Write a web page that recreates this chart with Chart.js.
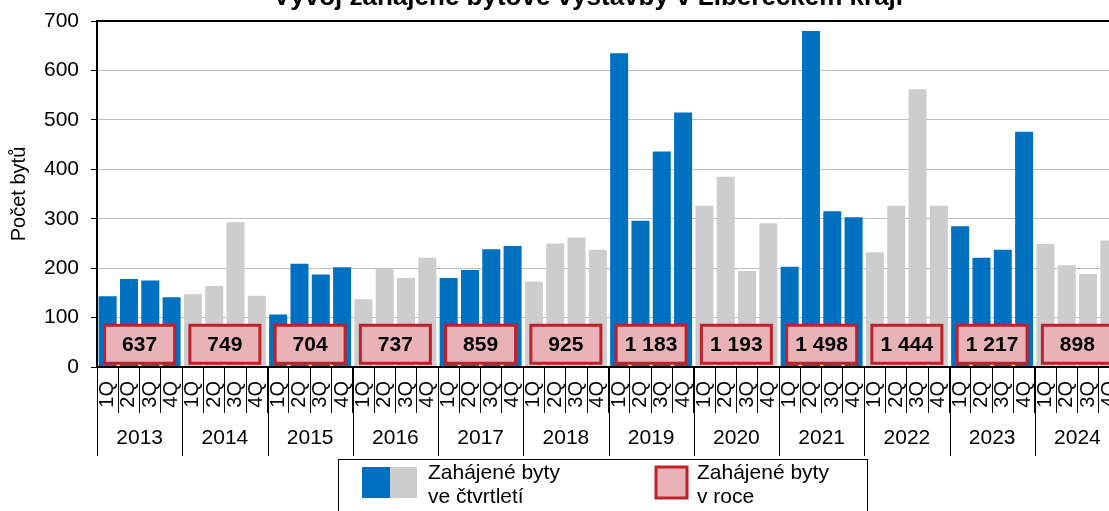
<!DOCTYPE html>
<html lang="cs">
<head>
<meta charset="utf-8">
<title>Vývoj zahájené bytové výstavby v Libereckém kraji</title>
<script src="https://cdn.jsdelivr.net/npm/chart.js@4/dist/chart.umd.min.js"></script>
<style>
    html, body { margin: 0; padding: 0; background: #fff; overflow: hidden; }
    #wrap { position: relative; width: 1109px; height: 511px; overflow: hidden; }
    #chart { position: absolute; left: 0; top: 0; }
</style>
</head>
<body>
<div id="wrap">
    <canvas id="chart" width="1180" height="511"></canvas>
</div>
<script>
const chartTitle = 'Vývoj zahájené bytové výstavby v Libereckém kraji';
const years = ['2013', '2014', '2015', '2016', '2017', '2018', '2019', '2020', '2021', '2022', '2023', '2024'];
const quarters = ['1Q', '2Q', '3Q', '4Q'];
// zahájené byty ve čtvrtletí (1Q..4Q za každý rok)
const quarterly = [
    143, 178, 175, 141,   // 2013
    147, 164, 293, 144,   // 2014
    106, 209, 187, 202,   // 2015
    137, 199, 180, 221,   // 2016
    180, 196, 238, 245,   // 2017
    173, 250, 262, 237,   // 2018
    635, 296, 436, 515,   // 2019
    326, 385, 194, 291,   // 2020
    203, 680, 315, 303,   // 2021
    232, 326, 562, 326,   // 2022
    285, 221, 237, 476,   // 2023
    249, 206, 188, 256    // 2024
];
// zahájené byty v roce
const annual = [637, 749, 704, 737, 859, 925, 1183, 1193, 1498, 1444, 1217, 898];
const yTicks = [0, 100, 200, 300, 400, 500, 600, 700];

const BLUE = '#0070C0';
const GRAY = '#CDCDCD';
const PINK = '#E8B2B6';
const RED = '#C0202A';
const FONT = '"Liberation Sans", Arial, Helvetica, sans-serif';

const labels = [];
const barColors = [];
years.forEach((y, i) => {
    quarters.forEach(q => {
        labels.push(q);
        barColors.push(i % 2 === 0 ? BLUE : GRAY);
    });
});

function fmt(n) {
    return String(n).replace(/\B(?=(\d{3})+(?!\d))/g, ' ');
}

// titulek (oříznutý nahoře jako v originálu)
const titlePlugin = {
    id: 'topTitle',
    afterDraw(chart) {
        const ctx = chart.ctx;
        ctx.save();
        ctx.fillStyle = '#000';
        ctx.font = 'bold 26px ' + FONT;
        ctx.textAlign = 'center';
        ctx.textBaseline = 'alphabetic';
        ctx.fillText(chartTitle, 588, 5);
        ctx.restore();
    }
};

// rámeček grafu
const framePlugin = {
    id: 'frame',
    afterDraw(chart) {
        const a = chart.chartArea;
        const ctx = chart.ctx;
        ctx.save();
        ctx.strokeStyle = '#000';
        ctx.lineWidth = 2;
        ctx.strokeRect(a.left, a.top, a.right - a.left, a.bottom - a.top);
        ctx.restore();
    }
};

// roční součty v rámečcích
const annualPlugin = {
    id: 'annualBoxes',
    afterDatasetsDraw(chart) {
        const x = chart.scales.x;
        const yS = chart.scales.y;
        const ctx = chart.ctx;
        const w = 70, h = 38;
        const cy = yS.getPixelForValue(46);
        ctx.save();
        annual.forEach((v, i) => {
            const cx = (x.getPixelForValue(i * 4 + 1) + x.getPixelForValue(i * 4 + 2)) / 2;
            ctx.fillStyle = PINK;
            ctx.fillRect(cx - w / 2, cy - h / 2, w, h);
            ctx.strokeStyle = RED;
            ctx.lineWidth = 3;
            ctx.strokeRect(cx - w / 2, cy - h / 2, w, h);
            ctx.fillStyle = '#000';
            ctx.font = 'bold 21px ' + FONT;
            ctx.textAlign = 'center';
            ctx.textBaseline = 'middle';
            ctx.fillText(fmt(v), cx, cy + 1);
        });
        ctx.restore();
    }
};

// roky pod čtvrtletími + oddělovače
const yearAxisPlugin = {
    id: 'yearAxis',
    afterDraw(chart) {
        const x = chart.scales.x;
        const a = chart.chartArea;
        const ctx = chart.ctx;
        const step = x.width / labels.length;
        ctx.save();
        ctx.strokeStyle = '#000';
        ctx.lineWidth = 1;
        for (let i = 0; i <= years.length; i++) {
            const px = Math.round(x.getPixelForValue(i * 4) - step / 2) + 0.5;
            ctx.beginPath();
            ctx.moveTo(px, a.bottom);
            ctx.lineTo(px, a.bottom + 89);
            ctx.stroke();
        }
        ctx.fillStyle = '#000';
        ctx.font = '21px ' + FONT;
        ctx.textAlign = 'center';
        ctx.textBaseline = 'middle';
        years.forEach((y, i) => {
            const cx = (x.getPixelForValue(i * 4 + 1) + x.getPixelForValue(i * 4 + 2)) / 2;
            ctx.fillText(y, cx, a.bottom + 71);
        });
        ctx.restore();
    }
};

// legenda
const legendPlugin = {
    id: 'customLegend',
    afterDraw(chart) {
        const ctx = chart.ctx;
        ctx.save();
        ctx.strokeStyle = '#000';
        ctx.lineWidth = 1;
        ctx.strokeRect(338.5, 459.5, 529, 80);

        ctx.fillStyle = BLUE;
        ctx.fillRect(362, 467, 28, 31);
        ctx.fillStyle = GRAY;
        ctx.fillRect(390, 467, 27, 31);

        ctx.fillStyle = PINK;
        ctx.fillRect(656, 467, 31, 31);
        ctx.strokeStyle = RED;
        ctx.lineWidth = 3;
        ctx.strokeRect(656, 467, 31, 31);

        ctx.fillStyle = '#000';
        ctx.font = '21px ' + FONT;
        ctx.textAlign = 'left';
        ctx.textBaseline = 'middle';
        ctx.fillText('Zahájené byty', 428, 473);
        ctx.fillText('ve čtvrtletí', 428, 497);
        ctx.fillText('Zahájené byty', 697, 473);
        ctx.fillText('v roce', 697, 497);
        ctx.restore();
    }
};

const ctx = document.getElementById('chart').getContext('2d');
new Chart(ctx, {
    type: 'bar',
    data: {
        labels: labels,
        datasets: [{
            label: 'Zahájené byty ve čtvrtletí',
            data: quarterly,
            backgroundColor: barColors,
            borderWidth: 0,
            barPercentage: 0.845,
            categoryPercentage: 1.0
        }]
    },
    options: {
        responsive: false,
        animation: false,
        events: [],
        layout: {
            padding: { top: 21, right: 60, bottom: 0, left: 0 }
        },
        plugins: {
            legend: { display: false },
            tooltip: { enabled: false },
            title: { display: false }
        },
        scales: {
            x: {
                ticks: {
                    color: '#000',
                    font: { family: FONT, size: 20 },
                    minRotation: 90,
                    maxRotation: 90,
                    autoSkip: false,
                    padding: -32
                },
                grid: {
                    offset: true,
                    drawOnChartArea: false,
                    color: '#000',
                    tickLength: 46,
                    lineWidth: 1
                },
                border: { color: '#000', width: 2 },
                afterFit: function(scale) { scale.height = 144; }
            },
            y: {
                min: yTicks[0],
                max: yTicks[yTicks.length - 1],
                afterBuildTicks: function(scale) {
                    scale.ticks = yTicks.map(v => ({ value: v }));
                },
                ticks: {
                    color: '#000',
                    font: { family: FONT, size: 21 },
                    padding: 12
                },
                grid: {
                    color: '#BFBFBF',
                    tickColor: '#000',
                    tickLength: 6,
                    lineWidth: 1
                },
                border: { color: '#000', width: 2 },
                title: {
                    display: true,
                    text: 'Počet bytů',
                    color: '#000',
                    font: { family: FONT, size: 20 },
                    padding: { top: 7, bottom: 0 }
                },
                afterFit: function(scale) {
                    scale.width = 97;
                    scale.paddingTop = 0;
                }
            }
        }
    },
    plugins: [framePlugin, annualPlugin, yearAxisPlugin, legendPlugin, titlePlugin]
});
</script>
</body>
</html>
